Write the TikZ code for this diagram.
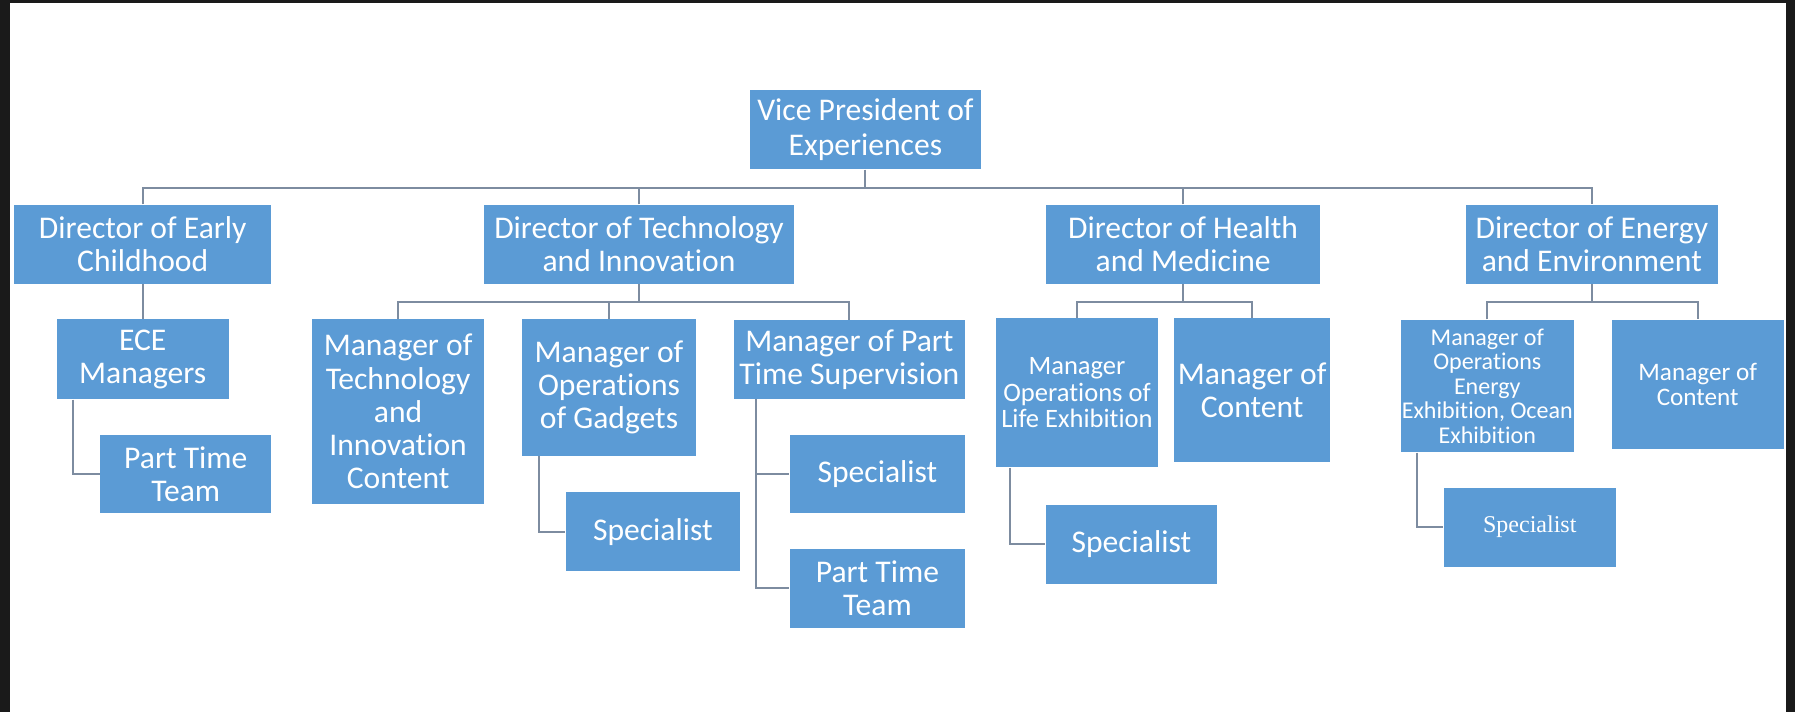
\documentclass[tikz,border=0pt]{standalone}
\usepackage{fontspec}
\setmainfont[Ligatures={NoCommon,NoContextual}]{Carlito}
\newfontfamily\serifsp{Liberation Serif}
\definecolor{boxblue}{HTML}{5B9BD5}
\definecolor{linecol}{HTML}{7D8CA0}
\definecolor{darkbg}{HTML}{1A1A1A}
\begin{document}
\begin{tikzpicture}[x=0.5pt,y=-0.5pt,
  box/.style={rectangle, fill=boxblue, text=white, inner sep=0pt, align=center,
    font=\fontsize{13.8}{14.5}\selectfont},
  conn/.style={draw=linecol, line width=0.9pt}]
\useasboundingbox (0,0) rectangle (1568,622);
\fill[darkbg] (0,0) rectangle (1568,622);
\fill[white] (8.5,3) rectangle (1560,622);

% level 0
\node[box, minimum width=101pt, minimum height=34.6pt, font=\fontsize{13.8}{15.3}\selectfont] (vp) at (756,113.2) {Vice President of\\Experiences};
% level 1
\node[box, minimum width=112.3pt, minimum height=34.5pt] (dec) at (124.7,213.5) {Director of Early\\Childhood};
\node[box, minimum width=135.3pt, minimum height=34.5pt] (dti) at (558.2,213.5) {Director of Technology\\and Innovation};
\node[box, minimum width=119.5pt, minimum height=34.5pt] (dhm) at (1033.5,213.5) {Director of Health\\and Medicine};
\node[box, minimum width=110pt, minimum height=34.5pt] (dee) at (1390.5,213.5) {Director of Energy\\and Environment};
% early childhood
\node[box, minimum width=75pt, minimum height=34.8pt] (ece) at (124.7,313.8) {ECE\\Managers};
\node[box, minimum width=74.7pt, minimum height=34pt] (ptt1) at (162.3,414) {Part Time\\Team};
% technology
\node[box, minimum width=75.3pt, minimum height=80.5pt] (mtic) at (347.75,359.5) {Manager of\\Technology\\and\\Innovation\\Content};
\node[box, minimum width=76pt, minimum height=59.5pt] (mog) at (532,338.5) {Manager of\\Operations\\of Gadgets};
\node[box, minimum width=76.3pt, minimum height=34.5pt] (spec1) at (570.3,464.5) {Specialist};
\node[box, minimum width=101pt, minimum height=34.5pt] (mpts) at (742,314) {Manager of Part\\Time Supervision};
\node[box, minimum width=76.5pt, minimum height=34pt] (spec2) at (766.5,414) {Specialist};
\node[box, minimum width=76.5pt, minimum height=34.5pt] (ptt2) at (766.5,514) {Part Time\\Team};
% health
\node[box, minimum width=70.8pt, minimum height=65pt, font=\fontsize{11.6}{11.4}\selectfont] (mole) at (940.8,343) {Manager\\Operations of\\Life Exhibition};
\node[box, minimum width=68.3pt, minimum height=62.8pt] (mc1) at (1093.75,340.75) {Manager of\\Content};
\node[box, minimum width=74.7pt, minimum height=34.5pt] (spec3) at (988.3,475.5) {Specialist};
% energy
\node[box, minimum width=75.8pt, minimum height=57.8pt, font=\fontsize{10.5}{10.75}\selectfont] (moee) at (1299.2,337.25) {Manager of\\Operations\\Energy\\Exhibition, Ocean\\Exhibition};
\node[box, minimum width=75pt, minimum height=56.3pt, font=\fontsize{11}{10.9}\selectfont] (mc2) at (1483,335.75) {Manager of\\Content};
\node[box, minimum width=75.3pt, minimum height=34.5pt, font=\serifsp\fontsize{10.5}{12}\selectfont] (spec4) at (1336.3,460.5) {Specialist};

% connectors
\coordinate (b1) at (756,164);
\draw[conn] (vp.south) -- (b1);
\draw[conn] (dec.north) |- (b1) -| (dee.north);
\draw[conn] (dti.north) -- (dti.north |- b1);
\draw[conn] (dhm.north) -- (dhm.north |- b1);

\draw[conn] (dec.south) -- (dec.south |- ece.north);
\draw[conn] ([xshift=7.3pt]ece.south west) |- (ptt1.west);

\coordinate (b2) at (558.2,263.6);
\draw[conn] (dti.south) -- (b2);
\draw[conn] (mtic.north) |- (b2) -| (mpts.north);
\draw[conn] (mog.north) -- (mog.north |- b2);
\draw[conn] ([xshift=7.5pt]mog.south west) |- (spec1.west);
\draw[conn] ([xshift=10pt]mpts.south west) |- (ptt2.west);
\draw[conn] ([xshift=10pt]mpts.south west |- spec2.west) -- (spec2.west);

\coordinate (b3) at (1033.5,263.6);
\draw[conn] (dhm.south) -- (b3);
\draw[conn] (mole.north) |- (b3) -| (mc1.north);
\draw[conn] ([xshift=6.5pt]mole.south west) |- (spec3.west);

\coordinate (b4) at (1390.5,263.6);
\draw[conn] (dee.south) -- (b4);
\draw[conn] (moee.north) |- (b4) -| (mc2.north);
\draw[conn] ([xshift=7.3pt]moee.south west) |- (spec4.west);
\end{tikzpicture}
\end{document}
